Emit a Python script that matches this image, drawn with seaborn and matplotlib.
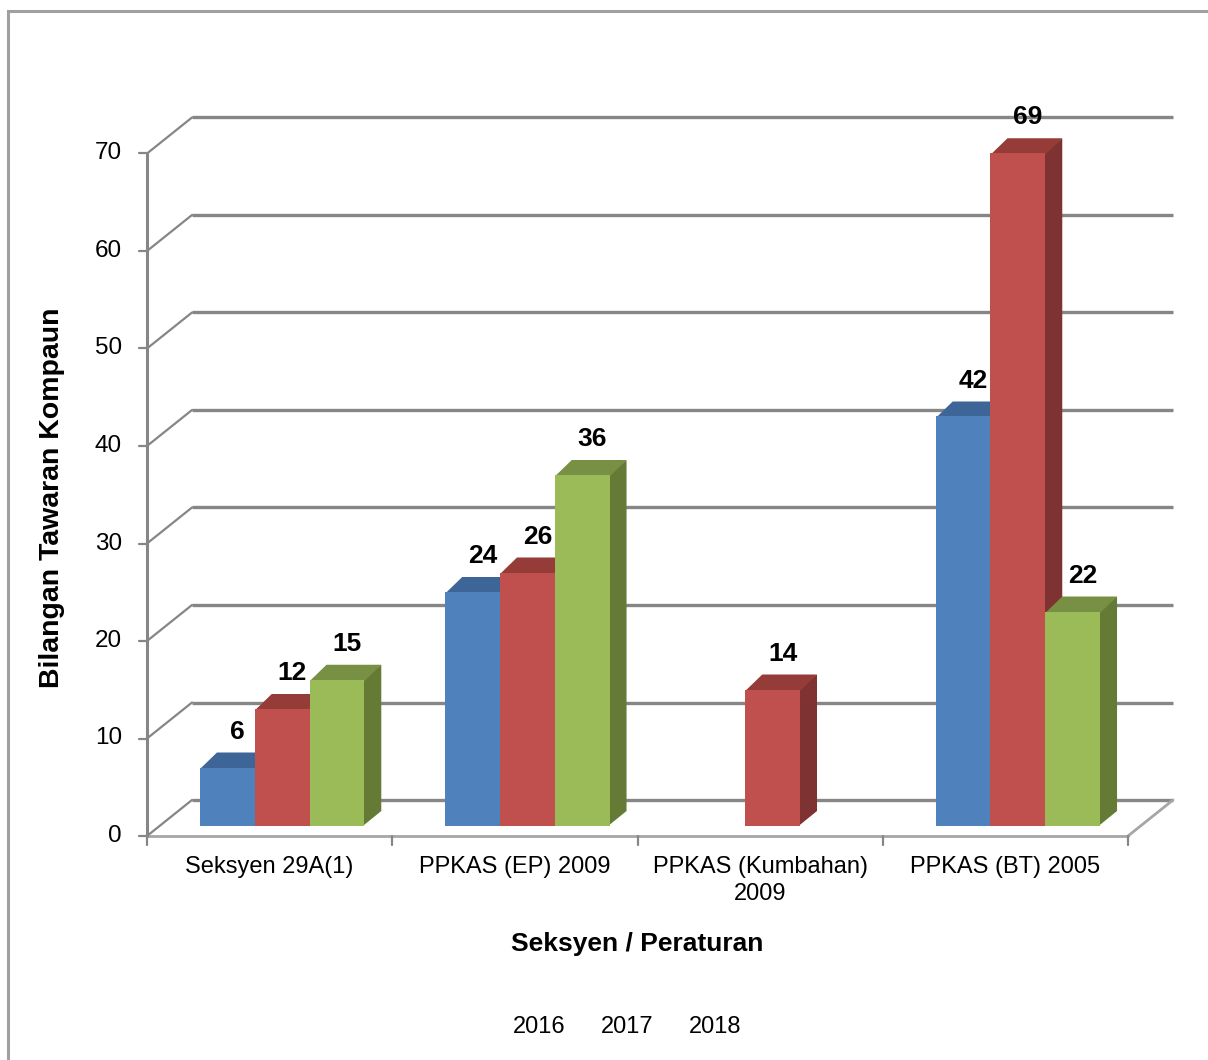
import pandas as pd
import matplotlib
matplotlib.use('Agg')
import matplotlib.pyplot as plt
import matplotlib.patches as mpatches
import seaborn as sns

# data
categories = ['Seksyen 29A(1)', 'PPKAS (EP) 2009', 'PPKAS (Kumbahan)\n2009', 'PPKAS (BT) 2005']
years = ['2016', '2017', '2018']
v2016 = [6, 24, 0, 42]
v2017 = [12, 26, 14, 69]
v2018 = [15, 36, 0, 22]
yticks = [0, 10, 20, 30, 40, 50, 60, 70]

df = pd.DataFrame({
    'Seksyen': categories * 3,
    'Tahun': [y for y in years for _ in categories],
    'Bilangan': v2016 + v2017 + v2018,
})

sns.set_style('white')
plt.rcParams['font.family'] = ['Liberation Sans', 'DejaVu Sans']
plt.rcParams['text.color'] = 'black'

front_cols = ['#4F81BD', '#C0504D', '#9BBB59']
top_cols = ['#3E6597', '#953B38', '#779044']
side_cols = ['#375A84', '#7E3231', '#647A35']
grid_col = '#868686'

W, H = 1208, 1060
fig = plt.figure(figsize=(W / 100, H / 100), dpi=100)
ax_l, ax_r, ax_t, ax_b = 159.5, 1140.5, 143.5, 826
ax = fig.add_axes([ax_l / W, (H - ax_b) / H, (ax_r - ax_l) / W, (ax_b - ax_t) / H])

sns.barplot(data=df, x='Seksyen', y='Bilangan', hue='Tahun', order=categories,
            hue_order=years, palette=front_cols, saturation=1, width=0.67,
            ax=ax)
ax.get_legend().remove()
ax.set_xlim(-0.5, 3.5)
ax.set_ylim(0, 70)
ax.axis('off')

# pixel -> data helpers for the fake 3D depth
kx = 4 / (ax_r - ax_l)
ky = 70 / (ax_b - ax_t)


def off(x, y, dx, dy):
    return x + dx * kx, y + dy * ky


FRONT = (-12.5, -10)
BACK = (32.5, 26)

# back wall gridlines + side wall diagonals + front axis
for v in yticks:
    bx0, by = off(-0.5, v, *BACK)
    bx1, _ = off(3.5, v, *BACK)
    ax.plot([bx0, bx1], [by, by], color=grid_col, lw=2.4, zorder=0.5, clip_on=False,
            solid_capstyle='butt')
    fx, fy = off(-0.5, v, *FRONT)
    ax.plot([fx, bx0], [fy, by], color=grid_col, lw=1.6, zorder=0.5, clip_on=False)
    tx, _ = off(-0.5, v, FRONT[0] - 8, FRONT[1])
    ax.plot([tx, fx], [fy, fy], color=grid_col, lw=1.6, zorder=0.5, clip_on=False)
    lx, _ = off(-0.5, v, FRONT[0] - 25, FRONT[1])
    ax.text(lx, fy, str(v), ha='right', va='center', fontsize=17.5, color='black')

fx0, fy0 = off(-0.5, 0, *FRONT)
fx70, fy70 = off(-0.5, 70, *FRONT)
ax.plot([fx0, fx70], [fy0, fy70], color=grid_col, lw=2.2, zorder=0.6, clip_on=False)

# floor front edge, right edge and category ticks
fxr, _ = off(3.5, 0, *FRONT)
bxr, byr = off(3.5, 0, *BACK)
ax.plot([fx0, fxr], [fy0, fy0], color='#A6A6A6', lw=2, zorder=0.5, clip_on=False)
ax.plot([fxr, bxr], [fy0, byr], color='#A6A6A6', lw=2, zorder=0.5, clip_on=False)
for k in range(5):
    cx, _ = off(-0.5 + k, 0, *FRONT)
    _, cy = off(-0.5 + k, 0, FRONT[0], FRONT[1] - 9)
    ax.plot([cx, cx], [fy0, cy], color=grid_col, lw=1.6, zorder=0.5, clip_on=False)

for i, cat in enumerate(categories):
    cx, cy = off(i, 0, FRONT[0], FRONT[1] - 20)
    ax.text(cx, cy, cat, ha='center', va='top', fontsize=17, linespacing=1.3)

# 3D faces of bars
DX, DY = 17, 15
bars = []
for ci, cont in enumerate(ax.containers):
    for p in cont.patches:
        p.set_zorder(3)
        p.set_edgecolor('none')
        bars.append((p.get_x(), p.get_width(), p.get_height(), ci))
bars.sort(key=lambda b: b[0])
for x0, w, h, ci in bars:
    if h <= 0:
        continue
    x1 = x0 + w
    xs, _ = off(x1, 0, -1.5, 0)   # tuck the side face under the front to hide seams
    _, hs = off(x1, h, 0, -1.5)
    side = [(xs, 0), (xs, h), off(x1, h, DX, DY), off(x1, 0, DX, DY)]
    top = [(x0, hs), (x1, hs), off(x1, h, DX, DY), off(x0, h, DX, DY)]
    ax.add_patch(mpatches.Polygon(side, closed=True, fc=side_cols[ci], ec='none',
                                  zorder=2, clip_on=False))
    ax.add_patch(mpatches.Polygon(top, closed=True, fc=top_cols[ci], ec='none',
                                  zorder=2, clip_on=False))
    ax.annotate(f'{h:g}', xy=(x0 + w / 2, h), xytext=(7.2, 25.9),
                textcoords='offset points', ha='center', va='center',
                fontsize=19, fontweight='bold', zorder=5, annotation_clip=False)

# axis titles
fig.text(52 / W, 1 - 498 / H, 'Bilangan Tawaran Kompaun', rotation=90, ha='center',
         va='center', fontsize=20.5, fontweight='bold')
fig.text(637 / W, 1 - 944 / H, 'Seksyen / Peraturan', ha='center', va='center',
         fontsize=19, fontweight='bold')

# legend (keys are not visible in the original)
handles = [mpatches.Patch(color=c, label=y) for c, y in zip(front_cols, years)]
leg = fig.legend(handles=handles, loc='center', bbox_to_anchor=(627.5 / W, 1 - 1027 / H),
                 ncol=3, frameon=False, fontsize=17, handlelength=0, handletextpad=0,
                 columnspacing=1.5)
for h in leg.legend_handles:
    h.set_visible(False)

# outer chart border
fig.patches.append(mpatches.Rectangle((8 / W, -0.5), 2, 1 - 11 / H + 0.5,
                                      transform=fig.transFigure, fill=False,
                                      edgecolor='#A0A0A0', lw=2.2))

fig.savefig('out.png', dpi=100)
